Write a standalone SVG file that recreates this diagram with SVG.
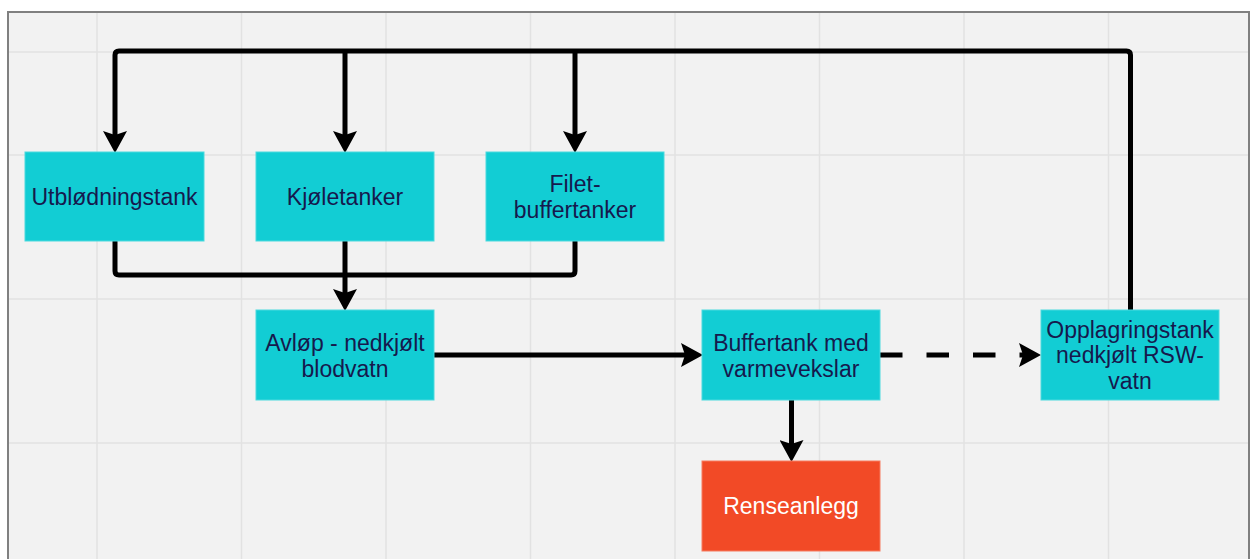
<svg xmlns="http://www.w3.org/2000/svg" width="1250" height="559" viewBox="0 0 1250 559">
  <style>
    .grid { stroke: #e2e2e2; stroke-width: 1.5; }
    .box { fill: #12cdd4; stroke: #4ad9de; stroke-width: 1; }
    .box-red { fill: #f24a26; stroke: #f67a5f; stroke-width: 1; }
    .label { font-family: "Liberation Sans", Arial, sans-serif; font-size: 23px; fill: #16194d; text-anchor: middle; }
    .label-light { fill: #ffffff; }
    .edge { fill: none; stroke: #000000; stroke-width: 5; }
    .dashed { stroke-dasharray: 22.5 24; }
  </style>
  <defs>
    <marker id="arrow" markerUnits="userSpaceOnUse" markerWidth="24" markerHeight="24" viewBox="0 0 22 24" refX="11" refY="12" orient="auto">
      <path d="M0,0 L22,12 L0,24 L4,12 Z" fill="#000000"/>
    </marker>
  </defs>

  <!-- page background -->
  <rect x="0" y="0" width="1250" height="559" fill="#ffffff"/>
  <rect x="8" y="12" width="1241" height="560" fill="#f2f2f2" stroke="#808080" stroke-width="2"/>

  <!-- grid -->
  <g id="grid">
    <line class="grid" x1="97" y1="13" x2="97" y2="559"/>
    <line class="grid" x1="241.5" y1="13" x2="241.5" y2="559"/>
    <line class="grid" x1="386" y1="13" x2="386" y2="559"/>
    <line class="grid" x1="530.5" y1="13" x2="530.5" y2="559"/>
    <line class="grid" x1="675" y1="13" x2="675" y2="559"/>
    <line class="grid" x1="819.5" y1="13" x2="819.5" y2="559"/>
    <line class="grid" x1="964" y1="13" x2="964" y2="559"/>
    <line class="grid" x1="1108.5" y1="13" x2="1108.5" y2="559"/>
    <line class="grid" x1="9" y1="52" x2="1248" y2="52"/>
    <line class="grid" x1="9" y1="155" x2="1248" y2="155"/>
    <line class="grid" x1="9" y1="299" x2="1248" y2="299"/>
    <line class="grid" x1="9" y1="443" x2="1248" y2="443"/>
  </g>

  <!-- connectors -->
  <g id="connectors">
    <path class="edge" d="M1130.5,311 V55 Q1130.5,51 1126.5,51 H119 Q115,51 115,55 V142" marker-end="url(#arrow)"/>
    <path class="edge" d="M345,51 V142" marker-end="url(#arrow)"/>
    <path class="edge" d="M575,51 V142" marker-end="url(#arrow)"/>
    <path class="edge" d="M115,241 V271 Q115,275 119,275 H571 Q575,275 575,271 V241"/>
    <path class="edge" d="M345,241 V300" marker-end="url(#arrow)"/>
    <path class="edge" d="M434,355 H692" marker-end="url(#arrow)"/>
    <path class="edge dashed" d="M880,355 H1030" marker-end="url(#arrow)"/>
    <path class="edge" d="M791.5,400 V451" marker-end="url(#arrow)"/>
  </g>

  <!-- nodes -->
  <g id="utblodningstank">
    <rect class="box" x="25" y="152" width="179" height="89"/>
    <text class="label" x="114.5" y="205">Utblødningstank</text>
  </g>
  <g id="kjoletanker">
    <rect class="box" x="256" y="152" width="178" height="89"/>
    <text class="label" x="345" y="205">Kjøletanker</text>
  </g>
  <g id="filet-buffertanker">
    <rect class="box" x="486" y="152" width="178" height="89"/>
    <text class="label" x="575" y="192">Filet-</text>
    <text class="label" x="575" y="218">buffertanker</text>
  </g>
  <g id="avlop">
    <rect class="box" x="256" y="310" width="178" height="90"/>
    <text class="label" x="345" y="351">Avløp - nedkjølt</text>
    <text class="label" x="345" y="376.5">blodvatn</text>
  </g>
  <g id="buffertank">
    <rect class="box" x="702" y="310" width="178" height="90"/>
    <text class="label" x="791" y="351">Buffertank med</text>
    <text class="label" x="791" y="376.5">varmevekslar</text>
  </g>
  <g id="opplagringstank">
    <rect class="box" x="1041" y="310" width="178" height="90"/>
    <text class="label" x="1130" y="337.5">Opplagringstank</text>
    <text class="label" x="1130" y="363">nedkjølt RSW-</text>
    <text class="label" x="1130" y="388.5">vatn</text>
  </g>
  <g id="renseanlegg">
    <rect class="box-red" x="702" y="461" width="178" height="90"/>
    <text class="label label-light" x="791" y="514">Renseanlegg</text>
  </g>
</svg>
